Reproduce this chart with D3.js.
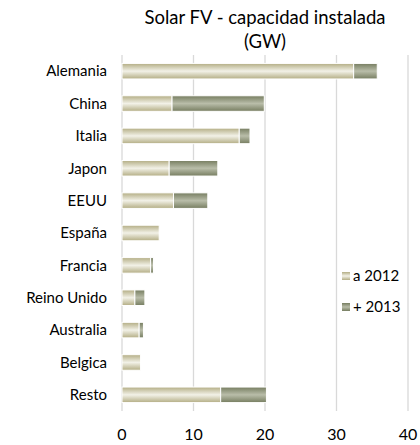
<!DOCTYPE html>
<html>
<head>
<meta charset="utf-8">
<script src="https://cdn.jsdelivr.net/npm/d3@7"></script>
<style>
  body { margin: 0; background: #fff; }
  text { font-family: Lato, "Open Sans", sans-serif; fill: #000; }
</style>
</head>
<body>
<div id="chart"></div>
<script>
var countries = ["Alemania", "China", "Italia", "Japon", "EEUU", "España", "Francia", "Reino Unido", "Australia", "Belgica", "Resto"];
var upTo2012 = [32.4, 7.0, 16.4, 6.6, 7.2, 5.2, 4.0, 1.8, 2.4, 2.6, 13.8];
var plus2013 = [3.3, 12.9, 1.5, 6.8, 4.8, 0, 0.4, 1.4, 0.6, 0, 6.4];
var seriesNames = ["a 2012", "+ 2013"];
var xTicks = [0, 10, 20, 30, 40];

var width = 420, height = 445;
var margin = {top: 55, right: 12, bottom: 34, left: 122};

var svg = d3.select("#chart").append("svg")
    .attr("width", width)
    .attr("height", height);

var defs = svg.append("defs");
function gradient(id, edge, mid) {
  var g = defs.append("linearGradient").attr("id", id)
      .attr("x1", 0).attr("y1", 0).attr("x2", 0).attr("y2", 1);
  g.append("stop").attr("offset", "0%").attr("stop-color", edge);
  g.append("stop").attr("offset", "50%").attr("stop-color", mid);
  g.append("stop").attr("offset", "100%").attr("stop-color", edge);
}
gradient("g2012", "#b3ad84", "#f2f1e7");
gradient("g2013", "#767d60", "#b9bda9");
var fills = ["url(#g2012)", "url(#g2013)"];

var x = d3.scaleLinear().domain([0, 40]).range([margin.left, 408]);
var y = d3.scaleBand().domain(countries).range([margin.top, height - margin.bottom]).paddingInner(0.52).paddingOuter(0.26);

// gridlines
svg.append("g").selectAll("line")
    .data(xTicks)
    .enter().append("line")
    .attr("x1", function(d) { return x(d); })
    .attr("x2", function(d) { return x(d); })
    .attr("y1", margin.top)
    .attr("y2", height - margin.bottom)
    .attr("stroke", "#d9d9d9")
    .attr("stroke-width", 1.3);

var stackData = countries.map(function(c, i) {
  return {name: c, a: upTo2012[i], b: plus2013[i]};
});
var series = d3.stack().keys(["a", "b"])(stackData);

svg.append("g").selectAll("g")
    .data(series)
    .enter().append("g")
    .attr("fill", function(d, i) { return fills[i]; })
    .selectAll("rect")
    .data(function(d) { return d.filter(function(p) { return p[1] - p[0] > 0; }); })
    .enter().append("rect")
    .attr("x", function(d) { return x(d[0]); })
    .attr("width", function(d) { return x(d[1]) - x(d[0]); })
    .attr("y", function(d) { return y(d.data.name); })
    .attr("height", y.bandwidth())
    .attr("stroke", "#fff")
    .attr("stroke-width", 1);

// category labels
svg.append("g").selectAll("text")
    .data(countries)
    .enter().append("text")
    .attr("x", 107)
    .attr("y", function(d) { return y(d) + y.bandwidth() / 2; })
    .attr("dy", ".35em")
    .attr("text-anchor", "end")
    .style("font-size", "15px")
    .text(function(d) { return d; });

// x tick labels
svg.append("g").selectAll("text")
    .data(xTicks)
    .enter().append("text")
    .attr("x", function(d) { return x(d); })
    .attr("y", 440)
    .attr("text-anchor", "middle")
    .style("font-size", "16px")
    .text(function(d) { return d; });

// title
var title = svg.append("text")
    .attr("x", 265)
    .attr("text-anchor", "middle")
    .style("font-size", "18.5px");
title.append("tspan").attr("x", 265).attr("y", 24).text("Solar FV - capacidad instalada");
title.append("tspan").attr("x", 265).attr("y", 48).text("(GW)");

// legend
var legend = svg.append("g").selectAll("g")
    .data(seriesNames)
    .enter().append("g")
    .attr("transform", function(d, i) { return "translate(342," + (276 + i * 31) + ")"; });
legend.append("rect")
    .attr("x", 0).attr("y", -4)
    .attr("width", 8).attr("height", 8)
    .attr("fill", function(d, i) { return fills[i]; });
legend.append("text")
    .attr("x", 11)
    .attr("dy", ".35em")
    .style("font-size", "15px")
    .text(function(d) { return d; });
</script>
</body>
</html>
